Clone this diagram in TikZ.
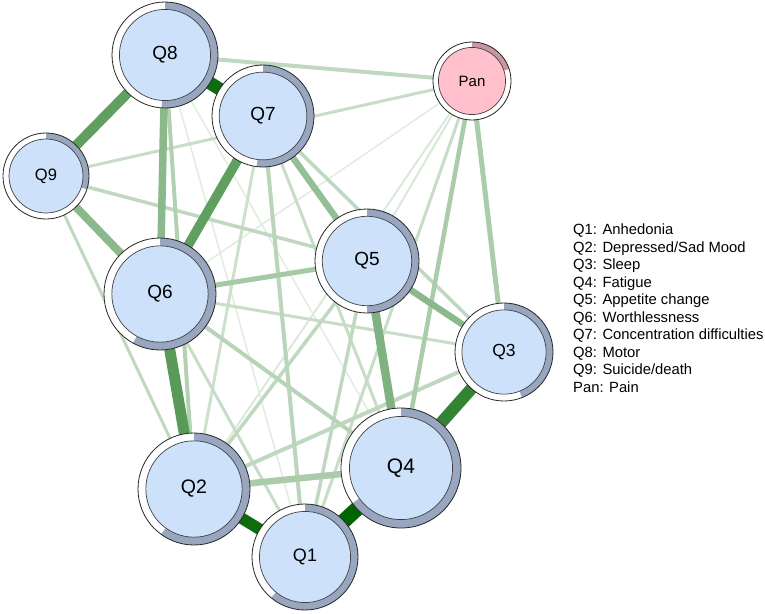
\documentclass[tikz,border=0pt]{standalone}
\usepackage{fontspec}
\setmainfont{Liberation Sans}
\usetikzlibrary{calc}
\pgfdeclarelayer{background}
\pgfsetlayers{background,main}
\definecolor{eg}{RGB}{0,100,0}
\definecolor{ringc}{RGB}{152,166,192}
\definecolor{innerc}{RGB}{205,226,250}
\definecolor{panc}{RGB}{255,192,203}
\definecolor{panring}{RGB}{200,150,160}
\tikzset{
  innerdisc/.style={draw=black!75, line width=0.7pt},
  nodeborder/.style={circle, draw=black!85, line width=0.8pt, inner sep=0pt},
  ew/.style 2 args={line width=#1pt, draw=eg!#2!white, line cap=butt},
  legendtext/.style={anchor=base west, inner sep=0pt, font=\fontsize{14.8}{17.5}\selectfont},
}
% name, x, y, R, fraction, fontsize, fill, ringcolor, label
\newcommand{\qnode}[9]{%
  \fill[white] (#2,#3) circle[radius=#4];
  \fill[#8] ($(#2,#3)+(90:#4)$) arc[start angle=90, delta angle={-360*#5}, radius=#4]
     -- ($(#2,#3)+({90-360*#5}:{0.86*#4})$) arc[start angle={90-360*#5}, delta angle={360*#5}, radius={0.86*#4}] -- cycle;
  \draw[innerdisc, fill=#7] (#2,#3) circle[radius={0.86*#4}];
  \node[nodeborder, minimum size={2*#4*1pt}, font=\fontsize{#6}{#6}\selectfont] (#1) at (#2,#3) {#9};
}
\begin{document}
\begin{tikzpicture}[x=1pt,y=1pt]
\useasboundingbox (0,0) rectangle (765,-613);
\qnode{Q8}{165}{-55}{53}{0.51}{19}{innerc}{ringc}{Q8}
\qnode{Q7}{263}{-116}{51}{0.52}{19}{innerc}{ringc}{Q7}
\qnode{Pan}{472}{-81}{39}{0.2}{15}{panc}{panring}{Pan}
\qnode{Q9}{46}{-176}{43}{0.3}{16.5}{innerc}{ringc}{Q9}
\qnode{Q6}{160}{-294}{56}{0.58}{19}{innerc}{ringc}{Q6}
\qnode{Q5}{367}{-261}{52}{0.5}{19}{innerc}{ringc}{Q5}
\qnode{Q3}{504}{-352}{49}{0.44}{17.5}{innerc}{ringc}{Q3}
\qnode{Q2}{194}{-489}{56}{0.6}{19.5}{innerc}{ringc}{Q2}
\qnode{Q4}{401}{-468}{60}{0.65}{21}{innerc}{ringc}{Q4}
\qnode{Q1}{305}{-557}{53}{0.61}{18}{innerc}{ringc}{Q1}

\begin{pgfonlayer}{background}
\draw[ew={1.5}{12}] (Pan.center) -- (Q6.center);
\draw[ew={2}{14}] (Pan.center) -- (Q2.center);
\draw[ew={2}{15}] (Pan.center) -- (Q5.center);
\draw[ew={1.5}{12}] (Q8.center) -- (Q4.center);
\draw[ew={1.5}{12}] (Q8.center) -- (Q1.center);
\draw[ew={3}{22}] (Pan.center) -- (Q9.center);
\draw[ew={3}{22}] (Pan.center) -- (Q1.center);
\draw[ew={3}{20}] (Q7.center) -- (Q2.center);
\draw[ew={3}{22}] (Q7.center) -- (Q4.center);
\draw[ew={3.5}{25}] (Q7.center) -- (Q3.center);
\draw[ew={3}{22}] (Q6.center) -- (Q3.center);
\draw[ew={3}{22}] (Q6.center) -- (Q1.center);
\draw[ew={3}{25}] (Q9.center) -- (Q2.center);
\draw[ew={3.5}{25}] (Q9.center) -- (Q5.center);
\draw[ew={3.5}{25}] (Q2.center) -- (Q5.center);
\draw[ew={3.5}{25}] (Q5.center) -- (Q1.center);
\draw[ew={4}{25}] (Q2.center) -- (Q3.center);
\draw[ew={4}{28}] (Q6.center) -- (Q4.center);
\draw[ew={4}{27}] (Q7.center) -- (Q1.center);
\draw[ew={4}{25}] (Q8.center) -- (Pan.center);
\draw[ew={4}{30}] (Q8.center) -- (Q2.center);
\draw[ew={4.5}{33}] (Pan.center) -- (Q4.center);
\draw[ew={5}{33}] (Pan.center) -- (Q3.center);
\draw[ew={6.5}{33}] (Q2.center) -- (Q4.center);
\draw[ew={5}{35}] (Q6.center) -- (Q5.center);
\draw[ew={6.5}{42}] (Q7.center) -- (Q5.center);
\draw[ew={6.5}{45}] (Q5.center) -- (Q3.center);
\draw[ew={8}{45}] (Q9.center) -- (Q6.center);
\draw[ew={7.5}{45}] (Q8.center) -- (Q6.center);
\draw[ew={8.5}{50}] (Q5.center) -- (Q4.center);
\draw[ew={9.5}{62}] (Q6.center) -- (Q7.center);
\draw[ew={10}{62}] (Q8.center) -- (Q9.center);
\draw[ew={11}{65}] (Q2.center) -- (Q6.center);
\draw[ew={12}{80}] (Q3.center) -- (Q4.center);
\draw[ew={11.5}{95}] (Q1.center) -- (Q2.center);
\draw[ew={13}{95}] (Q8.center) -- (Q7.center);
\draw[ew={15}{100}] (Q1.center) -- (Q4.center);
\end{pgfonlayer}

\foreach \t [count=\i] in {Q1: Anhedonia, Q2: Depressed/Sad Mood, Q3: Sleep, Q4: Fatigue, Q5: Appetite change, Q6: Worthlessness, Q7: Concentration difficulties, Q8: Motor, Q9: Suicide/death, Pan: Pain}
  \node[legendtext] (leg\i) at (573, {-234.8-17.5*(\i-1)}) {\t};
\end{tikzpicture}
\end{document}
